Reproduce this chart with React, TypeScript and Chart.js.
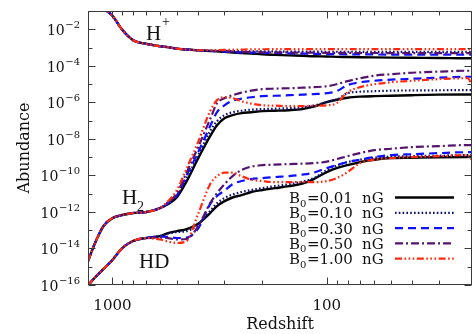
import React, { useEffect, useRef } from "react";
import { Chart, registerables } from "chart.js";
Chart.register(...registerables);

// Redshift sample points (x axis, reversed log)
const REDSHIFT = [1300,1200,1100,1000,900,800,700,600,550,500,450,400,350,325,300,275,250,225,200,175,150,130,115,100,90,80,70,60,50,40,30,22,21];

// All abundances below are log10(abundance).
// H+ : shared early part (z = 1300 .. 400), then one tail per field strength
const HPLUS_EARLY = [0.0,-0.37,-0.85,-1.26,-2.03,-2.60,-2.79,-2.93,-2.98,-3.06,-3.11,-3.15];
const HPLUS_B001 = [-3.19,-3.21,-3.24,-3.27,-3.30,-3.33,-3.37,-3.40,-3.43,-3.45,-3.48,-3.49,-3.51,-3.52,-3.53,-3.54,-3.55,-3.56,-3.57,-3.59,-3.59];
const HPLUS_B010 = [-3.17,-3.17,-3.18,-3.19,-3.20,-3.205,-3.21,-3.215,-3.22,-3.22,-3.225,-3.23,-3.23,-3.23,-3.235,-3.235,-3.24,-3.24,-3.24,-3.24,-3.24];
const HPLUS_B030 = [-3.19,-3.20,-3.22,-3.24,-3.26,-3.275,-3.29,-3.30,-3.32,-3.33,-3.345,-3.36,-3.365,-3.37,-3.375,-3.38,-3.385,-3.39,-3.39,-3.39,-3.39];
const HPLUS_B050 = [-3.18,-3.19,-3.21,-3.22,-3.24,-3.25,-3.26,-3.265,-3.27,-3.28,-3.28,-3.29,-3.29,-3.295,-3.30,-3.30,-3.305,-3.31,-3.31,-3.31,-3.31];
const HPLUS_B100 = [-3.15,-3.14,-3.13,-3.12,-3.11,-3.10,-3.095,-3.09,-3.09,-3.09,-3.09,-3.09,-3.09,-3.09,-3.09,-3.09,-3.09,-3.09,-3.09,-3.09,-3.09];

// H2 : shared early part (z = 1300 .. 600)
const H2_EARLY = [-14.69,-13.65,-12.77,-12.34,-12.17,-12.06,-12.01,-11.79];
const H2_B001 = [-11.57,-11.19,-10.31,-9.11,-7.85,-7.25,-6.87,-6.70,-6.59,-6.54,-6.48,-6.46,-6.43,-6.37,-6.24,-5.99,-5.86,-5.75,-5.69,-5.66,-5.64,-5.61,-5.58,-5.57,-5.57];
const H2_B010 = [-11.54,-11.13,-10.15,-8.95,-7.58,-7.03,-6.70,-6.54,-6.46,-6.40,-6.37,-6.35,-6.32,-6.27,-6.18,-5.99,-5.86,-5.50,-5.42,-5.39,-5.36,-5.35,-5.34,-5.33,-5.33];
const H2_B030 = [-11.52,-11.08,-9.98,-8.78,-7.30,-6.54,-6.16,-5.91,-5.80,-5.72,-5.66,-5.64,-5.61,-5.58,-5.55,-5.50,-5.39,-5.06,-4.90,-4.82,-4.76,-4.71,-4.65,-4.60,-4.60];
const H2_B050 = [-11.46,-10.97,-9.82,-8.51,-6.92,-6.05,-5.77,-5.61,-5.47,-5.36,-5.28,-5.25,-5.23,-5.20,-5.17,-5.12,-5.01,-4.84,-4.68,-4.54,-4.46,-4.38,-4.32,-4.27,-4.27];
const H2_B100 = [-11.41,-10.80,-9.60,-8.23,-6.48,-5.88,-5.72,-5.77,-5.94,-6.07,-6.16,-6.18,-6.21,-6.21,-6.18,-6.16,-6.05,-5.45,-5.17,-5.01,-4.90,-4.82,-4.73,-4.68,-5.06];

// HD : shared early part (z = 1300 .. 700)
const HD_EARLY = [-16.02,-15.56,-15.12,-14.63,-13.98,-13.59,-13.43];
const HD_B001 = [-13.32,-13.16,-13.05,-12.94,-12.66,-12.06,-11.68,-11.41,-11.21,-11.08,-10.91,-10.80,-10.70,-10.59,-10.45,-10.20,-9.82,-9.60,-9.44,-9.27,-9.14,-9.05,-9.03,-9.01,-9.00,-9.00];
const HD_B010 = [-13.32,-13.18,-13.10,-13.05,-12.72,-11.95,-11.52,-11.24,-11.05,-10.91,-10.80,-10.70,-10.59,-10.48,-10.34,-10.15,-9.71,-9.46,-9.27,-9.14,-9.03,-8.97,-8.95,-8.92,-8.89,-8.89];
const HD_B030 = [-13.35,-13.37,-13.43,-13.40,-12.94,-11.57,-11.13,-10.83,-10.48,-10.31,-10.20,-10.15,-10.09,-10.04,-9.96,-9.85,-9.60,-9.44,-9.27,-9.14,-9.00,-8.89,-8.84,-8.78,-8.73,-8.73];
const HD_B050 = [-13.40,-13.43,-13.51,-13.48,-12.83,-11.52,-10.97,-10.48,-10.04,-9.71,-9.52,-9.44,-9.41,-9.38,-9.36,-9.33,-9.25,-9.11,-8.95,-8.78,-8.62,-8.54,-8.45,-8.40,-8.34,-8.34];
const HD_B100 = [-13.51,-13.62,-13.70,-13.59,-12.17,-10.48,-10.04,-9.85,-9.85,-10.04,-10.23,-10.31,-10.37,-10.37,-10.37,-10.37,-10.31,-10.15,-9.82,-9.33,-9.14,-9.05,-9.00,-8.95,-8.89,-9.16];

const B_LABELS = ["0.01", "0.10", "0.30", "0.50", "1.00"];
const Y_MAJOR_EXP = [-2, -4, -6, -8, -10, -12, -14, -16];
const Y_MINOR_EXP = [-3, -5, -7, -9, -11, -13, -15];
const X_MAJOR = [1000, 100];
const X_MINOR = [900, 800, 700, 600, 500, 400, 300, 200, 90, 80, 70, 60, 50, 40, 30];

const STYLES = [
  { color: "#000000", dash: [] as number[], width: 2.4 },
  { color: "#10107a", dash: [1.6, 2.2], width: 2.2 },
  { color: "#1010ff", dash: [8, 5], width: 2.2 },
  { color: "#55146e", dash: [8, 3, 2, 3], width: 2.2 },
  { color: "#ff2a10", dash: [7, 2.5, 1.6, 2.5, 1.6, 2.5, 1.6, 2.5], width: 2.2 },
];

const SERIES = [
  { hp: HPLUS_B001, h2: H2_B001, hd: HD_B001 },
  { hp: HPLUS_B010, h2: H2_B010, hd: HD_B010 },
  { hp: HPLUS_B030, h2: H2_B030, hd: HD_B030 },
  { hp: HPLUS_B050, h2: H2_B050, hd: HD_B050 },
  { hp: HPLUS_B100, h2: H2_B100, hd: HD_B100 },
];

function toPoints(logs: number[]) {
  return REDSHIFT.map((z, i) => ({ x: z, y: Math.pow(10, logs[i]) }));
}

const SERIF = "'DejaVu Serif', serif";
const TIMES = "'Liberation Serif', serif";

const decorPlugin = {
  id: "decor",
  afterDraw(chart: any) {
    const { ctx, chartArea: a, scales } = chart;
    const xs = scales.x;
    const ys = scales.y;
    ctx.save();
    ctx.strokeStyle = "#3a3a3a";
    ctx.lineWidth = 1;
    ctx.strokeRect(Math.round(a.left) + 0.5, Math.round(a.top) + 0.5, Math.round(a.right - a.left) - 1, Math.round(a.bottom - a.top) - 1);

    const L = Math.round(a.left) + 0.5, R = Math.round(a.right) - 0.5;
    const T = Math.round(a.top) + 0.5, B = Math.round(a.bottom) - 0.5;
    ctx.beginPath();
    const yTick = (e: number, len: number) => {
      const y = Math.round(ys.getPixelForValue(Math.pow(10, e))) + 0.5;
      ctx.moveTo(L, y); ctx.lineTo(L + len, y);
      ctx.moveTo(R, y); ctx.lineTo(R - len, y);
    };
    Y_MAJOR_EXP.forEach((e) => yTick(e, 7));
    Y_MINOR_EXP.forEach((e) => yTick(e, 4));
    const xTick = (v: number, len: number) => {
      const x = Math.round(xs.getPixelForValue(v)) + 0.5;
      ctx.moveTo(x, B); ctx.lineTo(x, B - len);
      ctx.moveTo(x, T); ctx.lineTo(x, T + len);
    };
    X_MAJOR.forEach((v) => xTick(v, 7));
    X_MINOR.forEach((v) => xTick(v, 4));
    ctx.stroke();

    ctx.fillStyle = "#111";
    ctx.textBaseline = "alphabetic";
    // y tick labels 10^e
    Y_MAJOR_EXP.forEach((e) => {
      const y = ys.getPixelForValue(Math.pow(10, e));
      const exp = "\u2212" + String(-e);
      ctx.font = `10px ${SERIF}`;
      const we = ctx.measureText(exp).width;
      ctx.font = `14px ${SERIF}`;
      const wb = ctx.measureText("10").width;
      const right = a.left - 8;
      ctx.textAlign = "left";
      ctx.fillText("10", right - we - wb - 0.5, y + 6);
      ctx.font = `10px ${SERIF}`;
      ctx.fillText(exp, right - we, y - 1);
    });
    // x tick labels
    ctx.font = `15px ${SERIF}`;
    ctx.textAlign = "center";
    X_MAJOR.forEach((v) => {
      ctx.fillText(String(v), xs.getPixelForValue(v), a.bottom + 25);
    });
    // axis titles
    ctx.font = `16px ${SERIF}`;
    ctx.fillText("Redshift", (a.left + a.right) / 2, a.bottom + 44);
    ctx.save();
    ctx.translate(29, (a.top + a.bottom) / 2);
    ctx.rotate(-Math.PI / 2);
    ctx.fillText("Abundance", 0, 0);
    ctx.restore();

    // species labels
    ctx.textAlign = "left";
    ctx.font = `21px ${TIMES}`;
    ctx.fillText("H", 146, 40);
    ctx.fillText("H", 122, 204);
    ctx.fillText("HD", 139, 268);
    ctx.font = `14px ${TIMES}`;
    ctx.fillText("+", 162, 26);
    ctx.fillText("2", 137, 211);

    // legend
    B_LABELS.forEach((lab, i) => {
      const yc = 197.5 + i * 15.3;
      const st = STYLES[i];
      ctx.fillStyle = "#111";
      ctx.font = `15px ${SERIF}`;
      ctx.fillText("B", 289, yc + 5.5);
      const wB = ctx.measureText("B").width;
      ctx.font = `10px ${SERIF}`;
      ctx.fillText("0", 289 + wB, yc + 9);
      const w0 = ctx.measureText("0").width;
      ctx.font = `15px ${SERIF}`;
      ctx.fillText("=" + lab, 289 + wB + w0 + 0.5, yc + 5.5);
      ctx.fillText("nG", 362, yc + 5.5);
      ctx.save();
      ctx.strokeStyle = st.color;
      ctx.lineWidth = st.width;
      ctx.setLineDash(st.dash);
      ctx.beginPath();
      ctx.moveTo(395, yc);
      ctx.lineTo(454, yc);
      ctx.stroke();
      ctx.restore();
    });
    ctx.restore();
  },
};

export default function App() {
  const ref = useRef<HTMLCanvasElement | null>(null);
  useEffect(() => {
    if (!ref.current) return;
    const datasets: any[] = [];
    SERIES.forEach((s, i) => {
      const st = STYLES[i];
      const groups = [
        [...HPLUS_EARLY, ...s.hp],
        [...H2_EARLY, ...s.h2],
        [...HD_EARLY, ...s.hd],
      ];
      groups.forEach((g) => {
        datasets.push({
          data: toPoints(g),
          borderColor: st.color,
          borderWidth: st.width,
          borderDash: st.dash,
          pointRadius: 0,
          fill: false,
          cubicInterpolationMode: "monotone",
          order: 10 - i,
        });
      });
    });
    const chart = new Chart(ref.current, {
      type: "line",
      data: { datasets },
      options: {
        animation: false,
        responsive: false,
        devicePixelRatio: 1,
        layout: { padding: { left: 88, top: 11, right: 1, bottom: 49 } },
        plugins: { legend: { display: false }, tooltip: { enabled: false } },
        scales: {
          x: { type: "logarithmic", reverse: true, min: 21, max: 1300, display: false },
          y: { type: "logarithmic", min: 1e-16, max: 1e-1, display: false },
        },
      },
      plugins: [decorPlugin],
    });
    return () => chart.destroy();
  }, []);
  return (
    <div style={{ position: "fixed", left: 0, top: 0, width: 473, height: 334, background: "#fff" }}>
      <canvas ref={ref} width={473} height={334} style={{ width: 473, height: 334 }} />
    </div>
  );
}
